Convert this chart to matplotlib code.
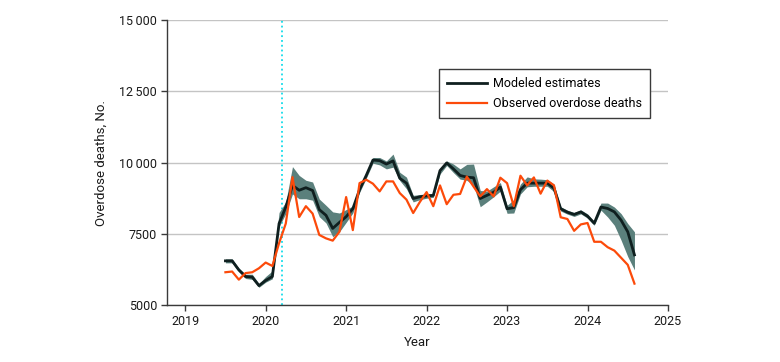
import matplotlib
matplotlib.use("Agg")
import matplotlib.pyplot as plt
import pandas as pd

plt.rcParams['font.family'] = ['Roboto', 'DejaVu Sans']

months = pd.period_range('2019-07', '2024-08', freq='M')

modeled = [6550, 6550, 6230, 6000, 5980, 5680, 5860, 6000, 7860, 8440,
           9200, 9030, 9120, 9020, 8350, 8150, 7690, 7900, 8100, 8380,
           9050, 9550, 10090, 10070, 9950, 10060, 9450, 9280, 8740, 8800,
           8830, 8850, 9720, 9990, 9780, 9550, 9490, 9470, 8740, 8850,
           8960, 9140, 8380, 8420, 9050, 9280, 9280, 9280, 9280, 9100,
           8380, 8260, 8180, 8270, 8120, 7870, 8440, 8390, 8270, 7980,
           7570, 6760]

lower = [6480, 6480, 6170, 5930, 5900, 5620, 5800, 5920, 7750, 8210,
         8900, 8730, 8730, 8680, 8100, 7880, 7400, 7570, 7900, 8230,
         8950, 9450, 9980, 9920, 9780, 9840, 9370, 9080, 8620, 8700,
         8750, 8780, 9600, 9900, 9650, 9420, 9380, 9200, 8450, 8620,
         8800, 9000, 8220, 8230, 8900, 9150, 9170, 9170, 9170, 8980,
         8300, 8190, 8110, 8200, 8050, 7800, 8330, 8090, 7800, 7280,
         6700, 6230]

upper = [6620, 6620, 6300, 6080, 6080, 5750, 6000, 6200, 8250, 8620,
         9860, 9550, 9380, 9320, 8720, 8500, 8270, 8230, 8350, 8480,
         9150, 9650, 10180, 10180, 10060, 10300, 9660, 9490, 8850, 8880,
         8900, 8920, 9800, 10060, 9950, 9780, 9940, 9950, 9020, 9000,
         9150, 9300, 8500, 8700, 9250, 9500, 9430, 9420, 9400, 9250,
         8450, 8330, 8250, 8340, 8200, 7940, 8580, 8580, 8440, 8210,
         7860, 7570]

observed = [6150, 6175, 5890, 6120, 6150, 6290, 6490, 6370, 7170, 7860,
            9490, 8090, 8470, 8210, 7460, 7340, 7260, 7570, 8790, 7630,
            9280, 9400, 9260, 8990, 9340, 9340, 8930, 8700, 8230, 8620,
            8965, 8470, 9200, 8540, 8870, 8900, 9510, 9160, 8815, 9070,
            8815, 9470, 9280, 8470, 9540, 9200, 9480, 8910, 9370, 9200,
            8080, 8020, 7605, 7830, 7880, 7220, 7220, 7030, 6910, 6660,
            6410, 5750]

emergency_date = 2020.2
year_ticks = [2019, 2020, 2021, 2022, 2023, 2024, 2025]
y_ticks = [5000, 7500, 10000, 12500, 15000]
y_tick_labels = ['5000', '7500', '10\u2009000', '12\u2009500', '15\u2009000']

x = [p.year + (p.month - 1) / 12 for p in months]

FS = 9

fig = plt.figure(figsize=(7.8, 3.62), dpi=100)
ax = fig.add_axes([0.2137, 0.1575, 0.8564 - 0.2137, 0.944 - 0.1575])

ax.set_xlim(2018.77, 2025.0)
ax.set_ylim(5000, 15000)

ax.set_yticks(y_ticks)
ax.set_yticklabels(y_tick_labels)
ax.set_xticks(year_ticks)
ax.grid(axis='y', color='#c4c4c4', linewidth=1.0, zorder=0)
ax.set_axisbelow(True)

for s in ['top', 'right']:
    ax.spines[s].set_visible(False)
for s in ['left', 'bottom']:
    ax.spines[s].set_color('#3a3a3a')
    ax.spines[s].set_linewidth(1.0)
ax.tick_params(axis='both', direction='out', length=4, width=1.0,
               color='#3a3a3a', labelsize=FS, labelcolor='#1a1a1a', pad=3)

ax.axvline(emergency_date, color='#12dcea', linestyle=':', linewidth=1.3, zorder=1)

ax.fill_between(x, lower, upper, color='#5b807c', linewidth=0, zorder=2)
ax.plot(x, modeled, color='#0f1f1f', linewidth=2.0, zorder=3,
        label='Modeled estimates')
ax.plot(x, observed, color='#fc4a0a', linewidth=1.6, zorder=4,
        label='Observed overdose deaths')

leg = ax.legend(loc='upper left', bbox_to_anchor=(0.543, 0.828),
                borderaxespad=0, fontsize=FS, frameon=True, fancybox=False,
                framealpha=1, edgecolor='#3a3a3a', handlelength=3.2,
                handletextpad=0.5, borderpad=0.65, labelspacing=0.55)
leg.get_frame().set_linewidth(1.0)

ax.set_xlabel('Year', fontsize=FS + 0.5, color='#1a1a1a', labelpad=6)
ax.set_ylabel('Overdose deaths, No.', fontsize=FS + 0.5, color='#1a1a1a', labelpad=8)

fig.savefig('out.png', dpi=100)
